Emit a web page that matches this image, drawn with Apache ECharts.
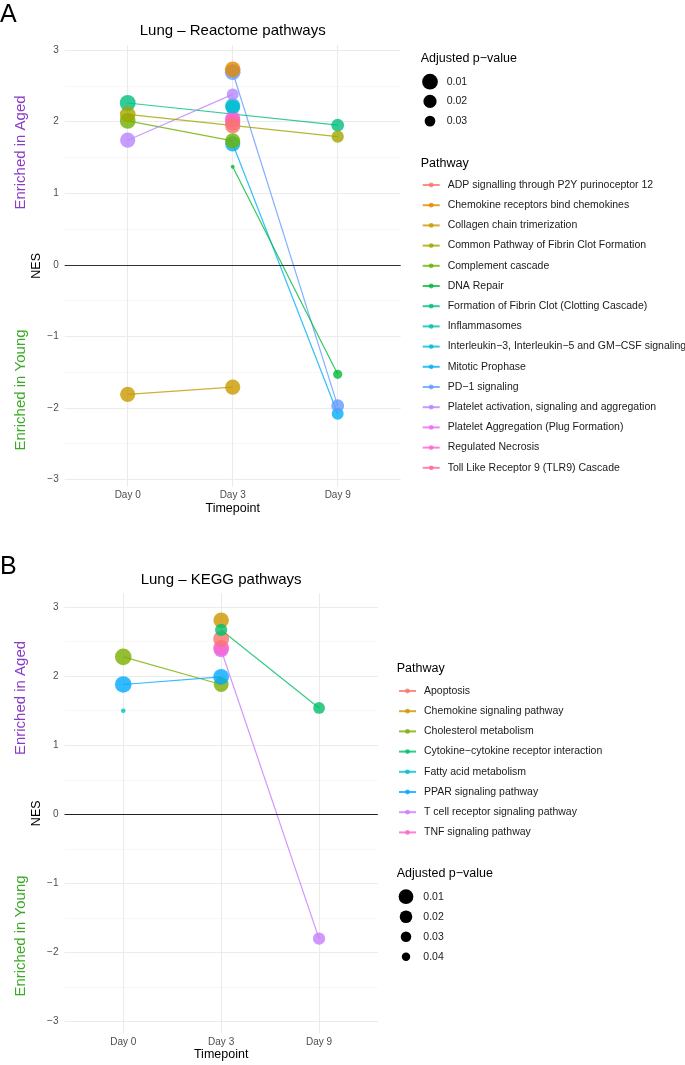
<!DOCTYPE html>
<html><head><meta charset="utf-8">
<script src="https://cdn.jsdelivr.net/npm/echarts@6/dist/echarts.min.js"></script>
<style>html,body{margin:0;padding:0;background:#fff}#c{width:685px;height:1065px}</style>
</head><body><div id="c"></div>
<script>
const FONT = "'Liberation Sans', Arial, Helvetica, sans-serif";
const timepoints = ['Day 0', 'Day 3', 'Day 9'];

// ---- Panel A: Reactome ----
const reactomePathways = ['ADP signalling through P2Y purinoceptor 12','Chemokine receptors bind chemokines','Collagen chain trimerization','Common Pathway of Fibrin Clot Formation','Complement cascade','DNA Repair','Formation of Fibrin Clot (Clotting Cascade)','Inflammasomes','Interleukin\u22123, Interleukin\u22125 and GM\u2212CSF signaling','Mitotic Prophase','PD\u22121 signaling','Platelet activation, signaling and aggregation','Platelet Aggregation (Plug Formation)','Regulated Necrosis','Toll Like Receptor 9 (TLR9) Cascade'];
const reactomeNesDay0 = [null, null, -1.81, 2.10, 2.01, null, 2.26, null, null, null, null, 1.74, null, null, null];
const reactomeNesDay3 = [1.94, 2.73, -1.71, null, 1.73, 1.37, null, 2.20, 2.22, 1.69, 2.69, 2.38, 2.04, 2.02, 1.98];
const reactomeNesDay9 = [null, null, null, 1.79, null, -1.53, 1.95, null, null, -2.08, -1.97, null, null, null, null];
const reactomePadjDay0 = [null, null, 0.012, 0.010, 0.010, null, 0.009, null, null, null, null, 0.012, null, null, null];
const reactomePadjDay3 = [0.012, 0.010, 0.012, null, 0.012, 0.057, null, 0.015, 0.012, 0.012, 0.010, 0.025, 0.012, 0.012, 0.012];
const reactomePadjDay9 = [null, null, null, 0.024, null, 0.036, 0.022, null, null, 0.025, 0.021, null, null, null, null];
const reactomeSizeBreaks = [0.01, 0.02, 0.03];

// ---- Panel B: KEGG ----
const keggPathways = ['Apoptosis','Chemokine signaling pathway','Cholesterol metabolism','Cytokine\u2212cytokine receptor interaction','Fatty acid metabolism','PPAR signaling pathway','T cell receptor signaling pathway','TNF signaling pathway'];
const keggNesDay0 = [null, null, 2.28, null, 1.50, 1.88, null, null];
const keggNesDay3 = [2.54, 2.81, 1.88, 2.67, null, 1.99, 2.38, 2.41];
const keggNesDay9 = [null, null, null, 1.54, null, null, -1.80, null];
const keggPadjDay0 = [null, null, 0.001, null, 0.058, 0.001, null, null];
const keggPadjDay3 = [0.004, 0.006, 0.009, 0.022, null, 0.005, 0.010, 0.004];
const keggPadjDay9 = [null, null, null, 0.024, null, null, 0.022, null];
const keggSizeBreaks = [0.01, 0.02, 0.03, 0.04];

// ---- styles ----
const reactomeColors = ['#F8766D','#E58700','#C99800','#A3A500','#6BB100','#00BA38','#00BF7D','#00C0AF','#00BCD8','#00B0F6','#619CFF','#B983FF','#E76BF3','#FD61D1','#FF67A4'];
const keggColors = ['#F8766D','#CD9600','#7CAE00','#00BE67','#00BFC4','#00A9FF','#C77CFF','#FF61CC'];
const reactomeDrawOrder = [9, 10, 6, 4, 7, 12, 13, 14, 0, 8, 11, 3, 1, 5, 2];
const keggDrawOrder = [6, 7, 0, 1, 3, 2, 5, 4];
const sizeA = p => Math.max(2, 18.2 - 250 * p);
const sizeB = p => Math.max(2, 16.8 - 209 * p);
const ALPHA = 0.8;
const AGED = '#8B3CC4', YOUNG = '#3AAA24';

function buildSeries(names, colors, days, padjs, order, idx, sizeFn, zeroColor) {
  return order.map((i, k) => {
    const data = [];
    days.forEach((arr, t) => { if (arr[i] !== null) data.push([t + 1, arr[i], padjs[t][i]]); });
    const s = {
      type: 'line', name: names[i], xAxisIndex: idx, yAxisIndex: idx, data,
      symbol: 'circle', showSymbol: true, showAllSymbol: true,
      symbolSize: v => sizeFn(v[2]),
      itemStyle: { color: colors[i], opacity: ALPHA },
      lineStyle: { color: colors[i], width: 1.2, opacity: ALPHA },
      emphasis: { disabled: true }, silent: true
    };
    if (k === 0) {
      s.markLine = { silent: true, symbol: ['none', 'none'], label: { show: false },
        lineStyle: { color: zeroColor, width: 1.2, type: 'solid', opacity: 1 },
        emphasis: { disabled: true }, data: [{ yAxis: 0 }] };
    }
    return s;
  });
}

const seriesA = buildSeries(reactomePathways, reactomeColors, [reactomeNesDay0, reactomeNesDay3, reactomeNesDay9], [reactomePadjDay0, reactomePadjDay3, reactomePadjDay9], reactomeDrawOrder, 0, sizeA, '#333');
const seriesB = buildSeries(keggPathways, keggColors, [keggNesDay0, keggNesDay3, keggNesDay9], [keggPadjDay0, keggPadjDay3, keggPadjDay9], keggDrawOrder, 1, sizeB, '#222');
const dummyA = reactomeSizeBreaks.map(b => ({ type: 'scatter', name: 'A:' + b, xAxisIndex: 0, yAxisIndex: 0, data: [], itemStyle: { color: '#000' } }));
const dummyB = keggSizeBreaks.map(b => ({ type: 'scatter', name: 'B:' + b, xAxisIndex: 1, yAxisIndex: 1, data: [], itemStyle: { color: '#000' } }));

const gridLine = { color: '#EBEBEB', width: 1.1 };
const minorLine = { color: '#F3F3F3', width: 0.7 };
function xAxis(idx) {
  return { gridIndex: idx, type: 'value', min: 0.4, max: 3.6, splitNumber: 3,
    axisLine: { show: false }, axisTick: { show: false },
    axisLabel: { color: '#4D4D4D', fontSize: 10, fontFamily: FONT, margin: 4, showMinLabel: false, showMaxLabel: false,
      formatter: v => Number.isInteger(v) ? (timepoints[v - 1] || '') : '' },
    splitLine: { show: true, showMinLine: false, showMaxLine: false, lineStyle: gridLine },
    name: 'Timepoint', nameLocation: 'middle', nameGap: 15,
    nameTextStyle: { color: '#000', fontSize: 12.5, fontFamily: FONT } };
}
function yAxis(idx, min, max) {
  return { gridIndex: idx, type: 'value', min, max, splitNumber: 6,
    axisLine: { show: false }, axisTick: { show: false },
    axisLabel: { color: '#4D4D4D', fontSize: 10, fontFamily: FONT, margin: 6, showMinLabel: false, showMaxLabel: false,
      formatter: v => Number.isInteger(v) ? String(v).replace('-', '\u2212') : '' },
    splitLine: { show: true, showMinLine: false, showMaxLine: false, lineStyle: gridLine },
    minorTick: { show: false, splitNumber: 2 },
    minorSplitLine: { show: true, lineStyle: minorLine },
    name: 'NES', nameLocation: 'middle', nameGap: 18, nameRotate: 90,
    nameTextStyle: { color: '#000', fontSize: 12.5, fontFamily: FONT } };
}

const legendText = { fontFamily: FONT, fontSize: 10.5, color: '#1A1A1A', lineHeight: 14 };
function pathwayLegend(names, left, firstCenter) {
  return { orient: 'vertical', left, top: firstCenter - 7, padding: 0, itemWidth: 17, itemHeight: 6, itemGap: 6.2,
    selectedMode: false, data: names, textStyle: Object.assign({}, legendText, { padding: [0, 0, 0, 3] }) };
}
function sizeLegends(prefix, breaks, sizeFn, cx, firstCenter, step, textX) {
  return breaks.map((b, k) => {
    const d = sizeFn(b);
    return { orient: 'vertical', left: cx - d / 2, top: firstCenter + step * k - Math.max(d, 14) / 2, padding: 0,
      itemWidth: d, itemHeight: d, selectedMode: false,
      data: [{ name: prefix + b, icon: 'circle', itemStyle: { color: '#000', opacity: 1 } }],
      formatter: n => n.split(':')[1],
      textStyle: Object.assign({}, legendText, { padding: [0, 0, 0, Math.max(0, textX - (cx + d / 2 + 5))] }) };
  });
}

function txt(text, x, y, size, color, opts) {
  opts = opts || {};
  const align = opts.align || 'left';
  return { type: 'text', x, y, rotation: opts.rot || 0, silent: true,
    style: { text, font: size + 'px ' + FONT, fill: color, align, verticalAlign: 'middle', textAlign: align, textVerticalAlign: 'middle' } };
}

const option = {
  animation: false,
  backgroundColor: '#fff',
  grid: [
    { left: 64.7, top: 45, width: 336, height: 441.7 },
    { left: 64.5, top: 593.3, width: 313.3, height: 440 }
  ],
  xAxis: [xAxis(0), xAxis(1)],
  yAxis: [yAxis(0, -3.1, 3.07), yAxis(1, -3.17, 3.2)],
  legend: [
    pathwayLegend(reactomePathways, 421.7, 185),
    pathwayLegend(keggPathways, 398, 691),
    ...sizeLegends('A:', reactomeSizeBreaks, sizeA, 430, 81.7, 19.7, 446.7),
    ...sizeLegends('B:', keggSizeBreaks, sizeB, 406, 896.7, 20, 423.3)
  ],
  graphic: [
    txt('A', 0, 15, 25, '#000'),
    txt('B', 0, 567, 25, '#000'),
    txt('Lung \u2013 Reactome pathways', 232.7, 30.5, 15, '#000', { align: 'center' }),
    txt('Lung \u2013 KEGG pathways', 221.1, 580, 15, '#000', { align: 'center' }),
    txt('Enriched in Aged', 20.5, 152.5, 15, AGED, { align: 'center', rot: Math.PI / 2 }),
    txt('Enriched in Young', 20.5, 390, 15, YOUNG, { align: 'center', rot: Math.PI / 2 }),
    txt('Enriched in Aged', 20.5, 698, 15, AGED, { align: 'center', rot: Math.PI / 2 }),
    txt('Enriched in Young', 20.5, 936, 15, YOUNG, { align: 'center', rot: Math.PI / 2 }),
    txt('Adjusted p\u2212value', 420.7, 59, 12.5, '#000'),
    txt('Pathway', 420.7, 163.3, 12.5, '#000'),
    txt('Pathway', 396.7, 668.3, 12.5, '#000'),
    txt('Adjusted p\u2212value', 396.7, 874, 12.5, '#000')
  ],
  series: [...seriesA, ...seriesB, ...dummyA, ...dummyB]
};

const chart = echarts.init(document.getElementById('c'), null, { renderer: 'canvas' });
chart.setOption(option);
</script>
</body></html>
